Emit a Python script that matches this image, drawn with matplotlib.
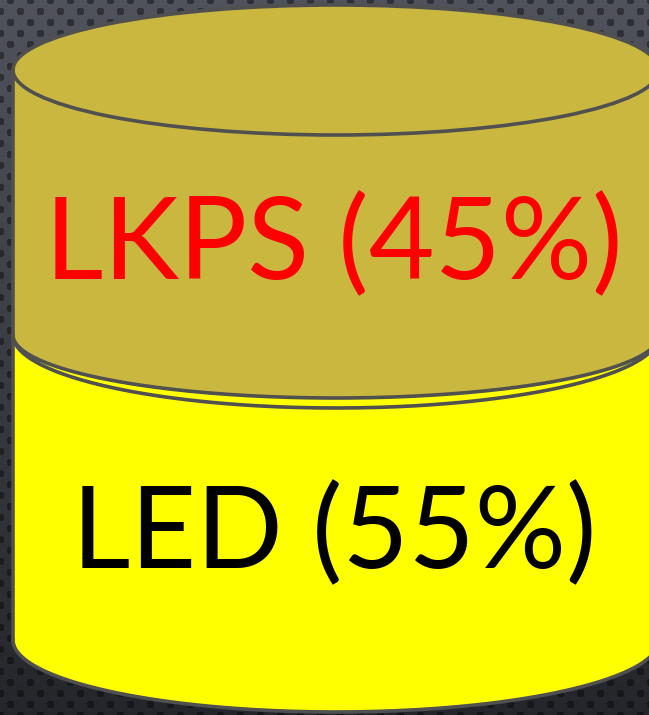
import numpy as np
import matplotlib.pyplot as plt
from matplotlib.patches import Polygon, Ellipse

# data
labels = ['LKPS', 'LED']
shares = [45, 55]
fill_colors = ['#c9b740', '#ffff00']
text_colors = ['#ff0000', '#000000']

W, H = 649, 715
EDGE = '#505050'


def background():
    yy, xx = np.mgrid[0:H, 0:W]
    top = np.array([80, 83, 92]) / 255.0
    bot = np.array([36, 38, 43]) / 255.0
    t = (yy / H)[..., None]
    img = top * (1 - t) + bot * t
    # dotted texture
    row = np.round(yy / 11.0)
    shift = (row % 2) * 10
    dx = ((xx - shift) % 20) - 10
    dy = yy - row * 11
    dots = (dx ** 2 + dy ** 2) < 16
    img[dots] *= 0.6
    return img


def side(y0, y1, b_bot):
    t = np.linspace(np.pi, 0, 200)
    xs = CX + A * np.cos(t)
    ys = y1 + b_bot * np.sin(t)
    pts = [(CX - A, y0), (CX + A, y0)] + list(zip(xs[::-1], ys[::-1]))
    return np.array(pts)


def lower_arc(yc, b):
    t = np.linspace(0, np.pi, 200)
    return CX + A * np.cos(t), yc + b * np.sin(t)


CX, A = 336, 323
Y_TOP, Y_MID, Y_BOT = 70, 335, 640

fig = plt.figure(figsize=(W / 100, H / 100), dpi=100)
ax = fig.add_axes([0, 0, 1, 1])
ax.imshow(background(), extent=(0, W, H, 0), aspect='auto', zorder=0)
ax.set_xlim(0, W)
ax.set_ylim(H, 0)
ax.axis('off')

lw = 2.6

# bottom segment (LED)
ax.add_patch(Ellipse((CX, Y_MID), 2 * A, 2 * 73, facecolor=fill_colors[1],
                     edgecolor='none', zorder=1))
ax.add_patch(Polygon(side(Y_MID, Y_BOT, 72), closed=True, facecolor=fill_colors[1],
                     edgecolor='none', zorder=1))
xs, ys = lower_arc(Y_BOT, 72)
ax.plot(xs, ys, color=EDGE, lw=lw, zorder=2)
xs, ys = lower_arc(Y_MID, 73)
ax.plot(xs, ys, color=EDGE, lw=lw, zorder=2)
ax.plot([CX - A, CX - A], [Y_MID, Y_BOT], color=EDGE, lw=lw, zorder=2)

# top segment (LKPS)
ax.add_patch(Polygon(side(Y_TOP, Y_MID, 63), closed=True, facecolor=fill_colors[0],
                     edgecolor='none', zorder=3))
ax.add_patch(Ellipse((CX, Y_TOP), 2 * A, 2 * 65, facecolor=fill_colors[0],
                     edgecolor=EDGE, lw=lw, zorder=4))
xs, ys = lower_arc(Y_MID, 63)
ax.plot(xs, ys, color=EDGE, lw=lw, zorder=4)
ax.plot([CX - A, CX - A], [Y_TOP, Y_MID], color=EDGE, lw=lw, zorder=4)

baselines = [279, 568]
for lab, s, c, yb in zip(labels, shares, text_colors, baselines):
    ax.text(CX - 2, yb, f'{lab} ({s}%)', color=c, ha='center', va='baseline',
            fontsize=82, family='Lato', zorder=5)

fig.savefig('out.png', dpi=100)
